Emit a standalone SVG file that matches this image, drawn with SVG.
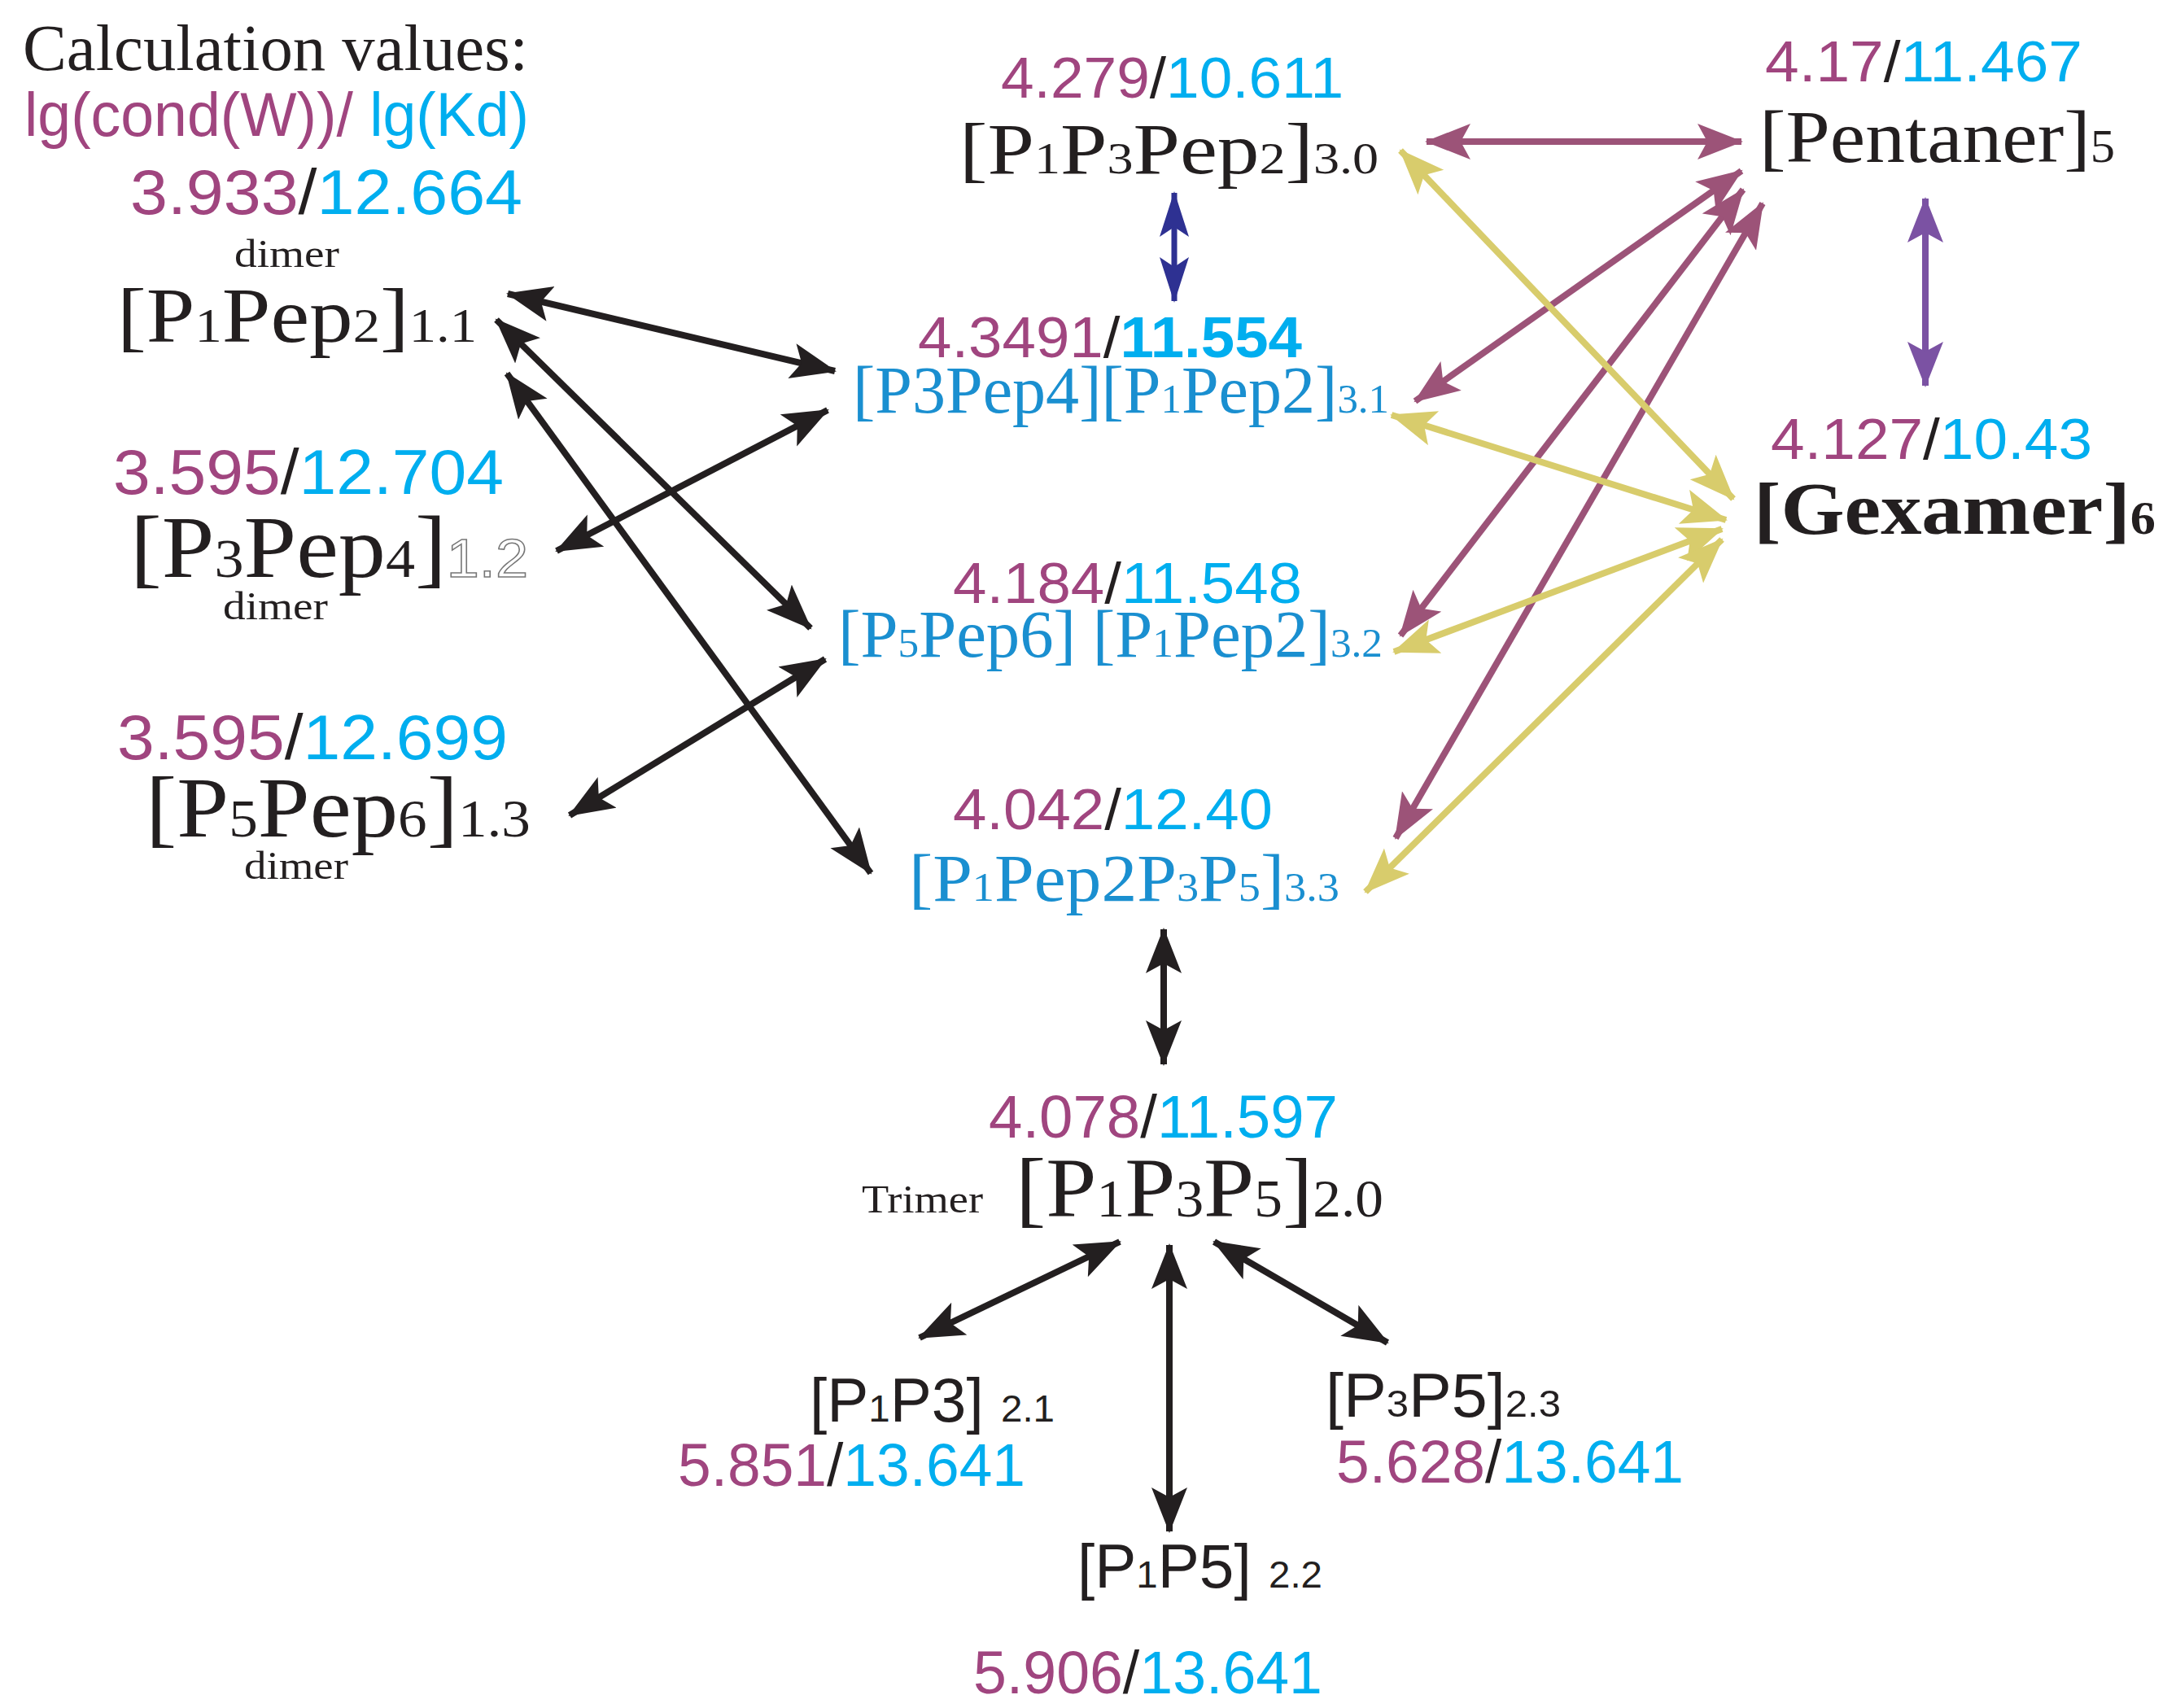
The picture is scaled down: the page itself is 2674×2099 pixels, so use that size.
<svg xmlns="http://www.w3.org/2000/svg" width="2674" height="2099" viewBox="0 0 2674 2099">
<style>
.t{font-family:"Liberation Serif","Times New Roman",serif;fill:#231f20}
.a{font-family:"Liberation Sans",Arial,sans-serif}
.m{fill:#a0457f}.c{fill:#00aeef}.k{fill:#231f20}.b{fill:#1a8fd0}
.s{font-size:0.62em}
.ln{fill:none;stroke-width:8}
</style>
<defs>
<marker id="hk" markerUnits="userSpaceOnUse" markerWidth="60" markerHeight="50" refX="54" refY="22" orient="auto-start-reverse"><path d="M0,0 L56,22 L0,44 L12,22z" fill="#231f20"/></marker>
<marker id="hm" markerUnits="userSpaceOnUse" markerWidth="60" markerHeight="50" refX="54" refY="22" orient="auto-start-reverse"><path d="M0,0 L56,22 L0,44 L12,22z" fill="#9c5378"/></marker>
<marker id="hy" markerUnits="userSpaceOnUse" markerWidth="60" markerHeight="50" refX="54" refY="22" orient="auto-start-reverse"><path d="M0,0 L56,22 L0,44 L12,22z" fill="#d8cc6c"/></marker>
<marker id="hn" markerUnits="userSpaceOnUse" markerWidth="60" markerHeight="50" refX="54" refY="18" orient="auto-start-reverse"><path d="M0,0 L56,18 L0,36 L12,18z" fill="#2e3192"/></marker>
<marker id="hp" markerUnits="userSpaceOnUse" markerWidth="60" markerHeight="50" refX="54" refY="22" orient="auto-start-reverse"><path d="M0,0 L56,22 L0,44 L12,22z" fill="#7b52a3"/></marker>
</defs>

<g id="legend">
<text class="t" x="28" y="86" font-size="80" textLength="621" lengthAdjust="spacingAndGlyphs">Calculation values:</text>
<text class="a" x="30" y="167" font-size="76" textLength="620" lengthAdjust="spacingAndGlyphs"><tspan class="m">lg(cond(W))/ </tspan><tspan class="c">lg(Kd)</tspan></text>
</g>

<g id="connectors">
<g stroke="#231f20" class="ln" stroke-width="9">
<line x1="624" y1="361" x2="1026" y2="456" marker-start="url(#hk)" marker-end="url(#hk)"/>
<line x1="610" y1="393" x2="996" y2="772" marker-start="url(#hk)" marker-end="url(#hk)"/>
<line x1="623" y1="459" x2="1070" y2="1073" marker-start="url(#hk)" marker-end="url(#hk)"/>
<line x1="684" y1="677" x2="1017" y2="504" marker-start="url(#hk)" marker-end="url(#hk)"/>
<line x1="700" y1="1002" x2="1014" y2="810" marker-start="url(#hk)" marker-end="url(#hk)"/>
<line x1="1430" y1="1142" x2="1430" y2="1308" marker-start="url(#hk)" marker-end="url(#hk)"/>
<line x1="1376" y1="1526" x2="1130" y2="1644" marker-start="url(#hk)" marker-end="url(#hk)"/>
<line x1="1437" y1="1530" x2="1437" y2="1882" marker-start="url(#hk)" marker-end="url(#hk)"/>
<line x1="1492" y1="1526" x2="1705" y2="1650" marker-start="url(#hk)" marker-end="url(#hk)"/>
</g>
<line x1="1443" y1="237" x2="1443" y2="370" stroke="#2e3192" stroke-width="7" marker-start="url(#hn)" marker-end="url(#hn)"/>
<line x1="2366" y1="244" x2="2366" y2="474" stroke="#7b52a3" stroke-width="8" marker-start="url(#hp)" marker-end="url(#hp)"/>
<g stroke="#9c5378" class="ln">
<line x1="1753" y1="174" x2="2140" y2="174" marker-start="url(#hm)" marker-end="url(#hm)"/>
<line x1="1739" y1="493" x2="2140" y2="210" marker-start="url(#hm)" marker-end="url(#hm)"/>
<line x1="1721" y1="781" x2="2142" y2="233" marker-start="url(#hm)" marker-end="url(#hm)"/>
<line x1="1715" y1="1030" x2="2166" y2="250" marker-start="url(#hm)" marker-end="url(#hm)"/>
</g>
<g stroke="#d8cc6c" class="ln">
<line x1="1721" y1="185" x2="2130" y2="613" marker-start="url(#hy)" marker-end="url(#hy)"/>
<line x1="1710" y1="510" x2="2121" y2="639" marker-start="url(#hy)" marker-end="url(#hy)"/>
<line x1="1713" y1="801" x2="2116" y2="650" marker-start="url(#hy)" marker-end="url(#hy)"/>
<line x1="1678" y1="1096" x2="2116" y2="663" marker-start="url(#hy)" marker-end="url(#hy)"/>
</g>
</g>

<g id="n11">
<text class="a" x="160" y="263" font-size="78" textLength="482" lengthAdjust="spacingAndGlyphs"><tspan class="m">3.933</tspan><tspan class="k">/</tspan><tspan class="c">12.664</tspan></text>
<text class="t" x="288" y="328" font-size="48" textLength="129" lengthAdjust="spacingAndGlyphs">dimer</text>
<text class="t" x="144" y="420" font-size="95" textLength="442" lengthAdjust="spacingAndGlyphs">[P<tspan class="s">1</tspan>Pep<tspan class="s">2</tspan>]<tspan class="s">1.1</tspan></text>
</g>
<g id="n12">
<text class="a" x="139" y="607" font-size="78" textLength="480" lengthAdjust="spacingAndGlyphs"><tspan class="m">3.595</tspan><tspan class="k">/</tspan><tspan class="c">12.704</tspan></text>
<text class="t" x="160" y="709" font-size="108" textLength="489" lengthAdjust="spacingAndGlyphs">[P<tspan class="s">3</tspan>Pep<tspan class="s">4</tspan>]<tspan font-family="Liberation Sans,sans-serif" class="s" fill="#fff" stroke="#777" stroke-width="1.5">1.2</tspan></text>
<text class="t" x="274" y="761" font-size="48" textLength="129" lengthAdjust="spacingAndGlyphs">dimer</text>
</g>
<g id="n13">
<text class="a" x="144" y="933" font-size="78" textLength="480" lengthAdjust="spacingAndGlyphs"><tspan class="m">3.595</tspan><tspan class="k">/</tspan><tspan class="c">12.699</tspan></text>
<text class="t" x="179" y="1028" font-size="105" textLength="473" lengthAdjust="spacingAndGlyphs">[P<tspan class="s">5</tspan>Pep<tspan class="s">6</tspan>]<tspan class="s">1.3</tspan></text>
<text class="t" x="300" y="1080" font-size="48" textLength="128" lengthAdjust="spacingAndGlyphs">dimer</text>
</g>

<g id="n30">
<text class="a" x="1230" y="120" font-size="70" textLength="421" lengthAdjust="spacingAndGlyphs"><tspan class="m">4.279</tspan><tspan class="k">/</tspan><tspan class="c">10.611</tspan></text>
<text class="t" x="1179" y="213" font-size="88" textLength="515" lengthAdjust="spacingAndGlyphs">[P<tspan class="s">1</tspan>P<tspan class="s">3</tspan>Pep<tspan class="s">2</tspan>]<tspan class="s">3.0</tspan></text>
</g>
<g id="n31">
<text class="a" x="1128" y="439" font-size="70" textLength="472" lengthAdjust="spacingAndGlyphs"><tspan class="m">4.3491</tspan><tspan class="k">/</tspan><tspan class="c" font-weight="bold">11.554</tspan></text>
<text class="t b" x="1048" y="507" font-size="82" textLength="659" lengthAdjust="spacingAndGlyphs">[P3Pep4][P<tspan class="s">1</tspan>Pep2]<tspan class="s">3.1</tspan></text>
</g>
<g id="n32">
<text class="a" x="1171" y="741" font-size="70" textLength="429" lengthAdjust="spacingAndGlyphs"><tspan class="m">4.184</tspan><tspan class="k">/</tspan><tspan class="c">11.548</tspan></text>
<text class="t b" x="1030" y="807" font-size="82" textLength="669" lengthAdjust="spacingAndGlyphs">[P<tspan class="s">5</tspan>Pep6] [P<tspan class="s">1</tspan>Pep2]<tspan class="s">3.2</tspan></text>
</g>
<g id="n33">
<text class="a" x="1171" y="1019" font-size="70" textLength="393" lengthAdjust="spacingAndGlyphs"><tspan class="m">4.042</tspan><tspan class="k">/</tspan><tspan class="c">12.40</tspan></text>
<text class="t b" x="1117" y="1107" font-size="82" textLength="529" lengthAdjust="spacingAndGlyphs">[P<tspan class="s">1</tspan>Pep2P<tspan class="s">3</tspan>P<tspan class="s">5</tspan>]<tspan class="s">3.3</tspan></text>
</g>
<g id="n5">
<text class="a" x="2169" y="100" font-size="70" textLength="390" lengthAdjust="spacingAndGlyphs"><tspan class="m">4.17</tspan><tspan class="k">/</tspan><tspan class="c">11.467</tspan></text>
<text class="t" x="2162" y="199" font-size="92" textLength="437" lengthAdjust="spacingAndGlyphs">[Pentaner]<tspan class="s">5</tspan></text>
</g>
<g id="n6">
<text class="a" x="2176" y="564" font-size="70" textLength="395" lengthAdjust="spacingAndGlyphs"><tspan class="m">4.127</tspan><tspan class="k">/</tspan><tspan class="c">10.43</tspan></text>
<text class="t" x="2155" y="656" font-size="92" font-weight="bold" textLength="494" lengthAdjust="spacingAndGlyphs">[Gexamer]<tspan class="s">6</tspan></text>
</g>
<g id="n20">
<text class="a" x="1215" y="1398" font-size="74" textLength="429" lengthAdjust="spacingAndGlyphs"><tspan class="m">4.078</tspan><tspan class="k">/</tspan><tspan class="c">11.597</tspan></text>
<text class="t" x="1059" y="1490" font-size="48" textLength="149" lengthAdjust="spacingAndGlyphs">Trimer</text>
<text class="t" x="1248" y="1495" font-size="104" textLength="452" lengthAdjust="spacingAndGlyphs">[P<tspan class="s">1</tspan>P<tspan class="s">3</tspan>P<tspan class="s">5</tspan>]<tspan class="s">2.0</tspan></text>
</g>
<g id="n21">
<text class="a k" x="995" y="1747" font-size="76" textLength="301" lengthAdjust="spacingAndGlyphs">[P<tspan class="s">1</tspan>P3] <tspan class="s">2.1</tspan></text>
<text class="a" x="833" y="1826" font-size="74" textLength="427" lengthAdjust="spacingAndGlyphs"><tspan class="m">5.851</tspan><tspan class="k">/</tspan><tspan class="c">13.641</tspan></text>
</g>
<g id="n22">
<text class="a k" x="1324" y="1951" font-size="76" textLength="301" lengthAdjust="spacingAndGlyphs">[P<tspan class="s">1</tspan>P5] <tspan class="s">2.2</tspan></text>
<text class="a" x="1196" y="2081" font-size="74" textLength="429" lengthAdjust="spacingAndGlyphs"><tspan class="m">5.906</tspan><tspan class="k">/</tspan><tspan class="c">13.641</tspan></text>
</g>
<g id="n23">
<text class="a k" x="1629" y="1741" font-size="76" textLength="289" lengthAdjust="spacingAndGlyphs">[P<tspan class="s">3</tspan>P5]<tspan class="s">2.3</tspan></text>
<text class="a" x="1642" y="1822" font-size="74" textLength="427" lengthAdjust="spacingAndGlyphs"><tspan class="m">5.628</tspan><tspan class="k">/</tspan><tspan class="c">13.641</tspan></text>
</g>
</svg>
